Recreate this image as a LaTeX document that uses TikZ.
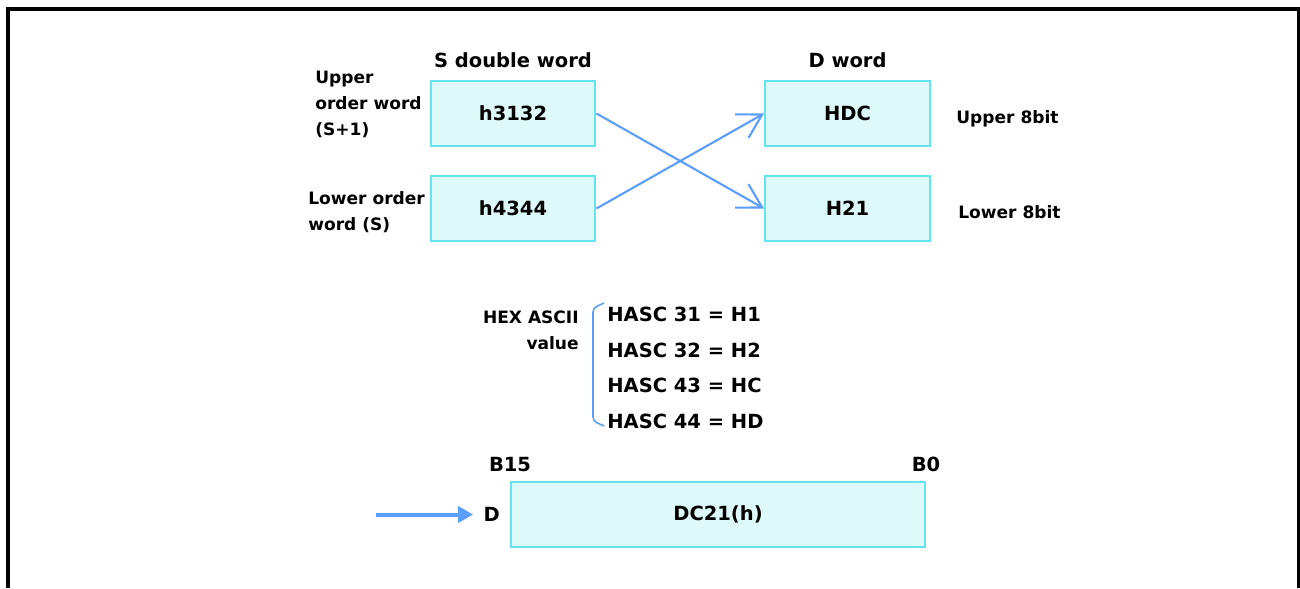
\documentclass[tikz,border=0pt]{standalone}
\usepackage{fontspec}
\setmainfont{DejaVu Sans}
\usepackage{tikz}
\usetikzlibrary{arrows.meta, positioning}
\definecolor{boxfill}{RGB}{221,250,248}
\definecolor{boxline}{RGB}{100,228,238}
\definecolor{flowblue}{RGB}{92,158,255}

\tikzset{
  wordbox/.style={draw=boxline, fill=boxfill, line width=0.04cm,
    minimum width=3.3cm, minimum height=1.3cm, inner sep=0pt,
    font=\fontsize{11.1}{13}\selectfont\bfseries},
  lbl/.style={inner sep=0pt, font=\fontsize{11.1}{13}\selectfont\bfseries},
  sidelbl/.style={inner sep=0pt, font=\fontsize{9.7}{14.7}\selectfont\bfseries},
  crossarrow/.style={draw=flowblue, line width=1.2pt, -{Straight Barb[angle=60:0.54cm]}},
  feedarrow/.style={draw=flowblue, line width=0.08cm, -{Triangle[length=0.3cm,width=0.32cm]}},
  bracketline/.style={draw=flowblue, line width=0.9pt, rounded corners=0.08cm},
}

\begin{document}
\begin{tikzpicture}[x=0.02cm, y=-0.02cm]
\useasboundingbox (0,0) rectangle (1300,588);

% outer frame (open at the bottom)
\draw[line width=0.08cm] (8,588) -- (8,8.7) -- (1299,8.7) -- (1299,588);

% source and destination words
\node[wordbox] (shi) at (513,113.5) {h3132};
\node[wordbox] (slo) at (513,208.5) {h4344};
\node[wordbox] (dhi) at (847.5,113.5) {HDC};
\node[wordbox] (dlo) at (847.5,208.5) {H21};

\node[lbl, above=0.23cm of shi] (stitle) {S double word};
\node[lbl, above=0.23cm of dhi] (dtitle) {D word};

\node[sidelbl, align=left, anchor=west] (supper) at (315,104.7) {Upper\\order word\\(S+1)};
\node[sidelbl, align=left, anchor=west] (slower) at (308,212.5) {Lower order\\word (S)};
\node[sidelbl, anchor=base west] (dupper) at (956,123) {Upper 8bit};
\node[sidelbl, anchor=base west] (dlower) at (958,218) {Lower 8bit};

% byte swap
\draw[crossarrow] (shi.east) -- (dlo.west);
\draw[crossarrow] (slo.east) -- (dhi.west);

% ascii table
\node[sidelbl, align=right, anchor=east] (hexlbl) at (579,330) {HEX ASCII\\value};
\draw[bracketline] (604,303) -- (593,308) -- (593,421) -- (604,426);
\foreach \txt [count=\k from 0] in {HASC 31 = H1, HASC 32 = H2, HASC 43 = HC, HASC 44 = HD}
  \node[lbl, anchor=base west] (hasc\k) at (607,321.5+35.7*\k) {\txt};

% result word
\node[wordbox, minimum width=8.28cm] (dres) at (718,514.5) {DC21(h)};
\node[lbl, above=0.18cm] (bhi) at (dres.north west) {B15};
\node[lbl, above=0.18cm] (blo) at (dres.north east) {B0};
\node[lbl, left=0.2cm of dres] (dlab) {D};
\coordinate (feed) at (376,514.5);
\draw[feedarrow, shorten >=0.2cm] (feed) -- (dlab);

\end{tikzpicture}
\end{document}
